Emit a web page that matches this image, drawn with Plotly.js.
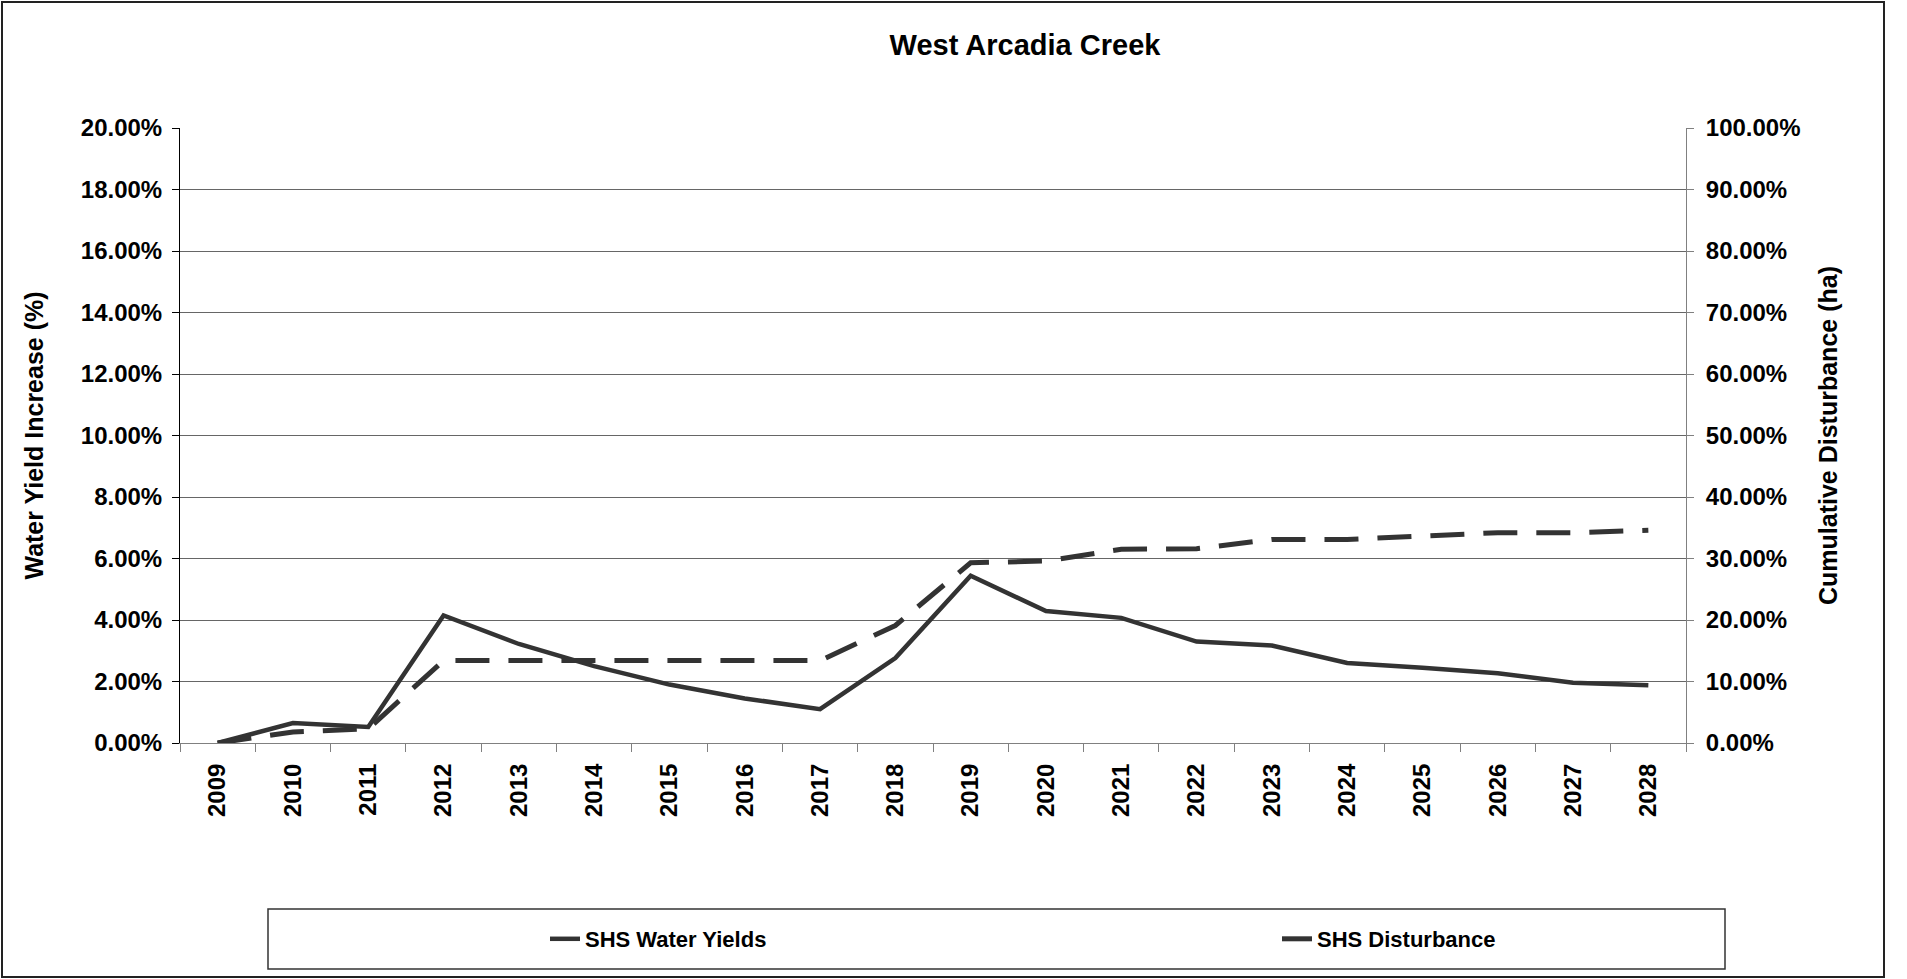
<!DOCTYPE html>
<html>
<head>
<meta charset="utf-8">
<script src="https://cdn.plot.ly/plotly-3.0.1.min.js"></script>
<style>
html,body{margin:0;padding:0;background:#fff;}
#chart{position:absolute;left:0;top:0;width:1907px;height:979px;}
</style>
</head>
<body>
<div id="chart"></div>
<script>
const years = ['2009','2010','2011','2012','2013','2014','2015','2016','2017','2018','2019','2020','2021','2022','2023','2024','2025','2026','2027','2028'];
const waterYields = [0, 0.65, 0.52, 4.15, 3.22, 2.50, 1.90, 1.45, 1.10, 2.76, 5.44, 4.29, 4.07, 3.30, 3.17, 2.60, 2.45, 2.27, 1.96, 1.88];
const disturbance = [0, 1.8, 2.3, 13.4, 13.4, 13.4, 13.4, 13.4, 13.4, 19.1, 29.3, 29.6, 31.5, 31.6, 33.1, 33.1, 33.7, 34.2, 34.2, 34.6];
const leftTicks = [0, 2, 4, 6, 8, 10, 12, 14, 16, 18, 20];
const leftTickText = ['0.00%','2.00%','4.00%','6.00%','8.00%','10.00%','12.00%','14.00%','16.00%','18.00%','20.00%'];
const rightTicks = [0, 10, 20, 30, 40, 50, 60, 70, 80, 90, 100];
const rightTickText = ['0.00%','10.00%','20.00%','30.00%','40.00%','50.00%','60.00%','70.00%','80.00%','90.00%','100.00%'];

const FONT = 'Liberation Sans, Arial, sans-serif';
const W = 1907, H = 979;
const L = 180, R = 1686, T = 128, B = 743;
const px = x => (x - L) / (R - L);
const py = y => (B - y) / (B - T);

const traces = [
  {x: years, y: waterYields, type: 'scatter', mode: 'lines', name: 'SHS Water Yields',
   line: {color: '#333333', width: 4.5}, yaxis: 'y', hoverinfo: 'skip'},
  {x: years, y: disturbance, type: 'scatter', mode: 'lines', name: 'SHS Disturbance',
   line: {color: '#333333', width: 5, dash: '34px,19px'}, yaxis: 'y2', hoverinfo: 'skip'}
];

const layout = {
  width: W, height: H,
  margin: {l: L, r: W - R, t: T, b: H - B, pad: 0},
  paper_bgcolor: '#ffffff', plot_bgcolor: '#ffffff',
  showlegend: true,
  title: {text: 'West Arcadia Creek', x: 1025 / W, xref: 'container', xanchor: 'center',
          y: 1 - 45 / H, yref: 'container', yanchor: 'middle',
          font: {family: FONT, size: 29, color: '#000', weight: 'bold'}},
  xaxis: {type: 'category', range: [-0.5, 19.5], tickangle: -90, tickson: 'boundaries', ticks: 'outside', ticklen: 8,
          tickcolor: '#808080', showline: true, linecolor: '#808080', linewidth: 1,
          ticklabelstandoff: 10,
          showgrid: false, zeroline: false, fixedrange: true,
          tickfont: {family: FONT, size: 24, color: '#000', weight: 'bold'}},
  yaxis: {range: [0, 20], tickvals: leftTicks, ticktext: leftTickText,
          ticks: 'outside', ticklen: 7, tickcolor: '#000', ticklabelstandoff: 5,
          showline: true, linecolor: '#000', linewidth: 1,
          showgrid: true, gridcolor: '#666666', gridwidth: 1, zeroline: false, fixedrange: true,
          tickfont: {family: FONT, size: 24, color: '#000', weight: 'bold'},
          title: {text: 'Water Yield Increase (%)', standoff: 30,
                  font: {family: FONT, size: 25, color: '#000', weight: 'bold'}}},
  yaxis2: {range: [0, 100], tickvals: rightTicks, ticktext: rightTickText,
           overlaying: 'y', side: 'right', ticks: 'outside', ticklen: 7, tickcolor: '#808080',
           ticklabelstandoff: 7,
           showline: true, linecolor: '#808080', linewidth: 1,
           showgrid: false, zeroline: false, fixedrange: true,
           tickfont: {family: FONT, size: 24, color: '#000', weight: 'bold'},
           title: {text: 'Cumulative Disturbance (ha)', standoff: 19,
                   font: {family: FONT, size: 25, color: '#000', weight: 'bold'}}},
  legend: {orientation: 'h', xref: 'container', yref: 'container',
           x: 545 / W, xanchor: 'left', y: (H - 939) / H, yanchor: 'middle',
           bgcolor: 'rgba(0,0,0,0)', borderwidth: 0,
           entrywidth: 687, entrywidthmode: 'pixels',
           font: {family: FONT, size: 22, color: '#000', weight: 'bold'}},
  shapes: [
    {type: 'rect', xref: 'paper', yref: 'paper', x0: px(2), x1: px(1884), y0: py(977), y1: py(2),
     line: {color: '#222', width: 2}, fillcolor: 'rgba(0,0,0,0)', layer: 'below'},
    {type: 'rect', xref: 'paper', yref: 'paper', x0: px(268), x1: px(1725), y0: py(969), y1: py(909),
     line: {color: '#333', width: 1.5}, fillcolor: 'rgba(0,0,0,0)', layer: 'below'}
  ]
};

Plotly.newPlot('chart', traces, layout, {displayModeBar: false, staticPlot: true});
</script>
</body>
</html>
